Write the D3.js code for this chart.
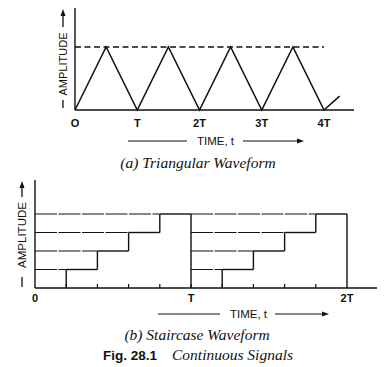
<!DOCTYPE html>
<html>
<head>
<meta charset="utf-8">
<script src="https://cdn.jsdelivr.net/npm/d3@7"></script>
<style>
  body { margin: 0; background: #fff; }
  svg { display: block; }
  .lbl { font-family: "Liberation Sans", Arial, sans-serif; fill: #111; }
  .cap { font-family: "Liberation Serif", "Times New Roman", serif; font-style: italic; fill: #111; }
</style>
</head>
<body>
<div id="chart"></div>
<script>
// (a) triangular waveform, time in units of T
const triTime = [0, 0.5, 1, 1.5, 2, 2.5, 3, 3.5, 4, 4.25]
const triAmp  = [0, 1, 0, 1, 0, 1, 0, 1, 0, 0.22]
const triTicks = [0, 1, 2, 3, 4]
const triTickLabels = ['O', 'T', '2T', '3T', '4T']

// (b) staircase, five steps per period
const stairSteps = [0, 0.2, 0.4, 0.6, 0.8]
const stairLevels = [0, 1, 2, 3, 4]
const stairPeriods = [0, 1]
const stairTicks = [0, 1, 2]
const stairTickLabels = ['0', 'T', '2T']

const width = 391, height = 367

const svg = d3.select('#chart').append('svg')
    .attr('width', width)
    .attr('height', height)

const ink = '#111'

function arrowHead(g, x, y, dir) {
    // small filled triangle pointing 'up' or 'right'
    let p = dir === 'up'
        ? [[x, y], [x - 2.5, y + 7], [x + 2.5, y + 7]]
        : [[x, y], [x - 7, y - 2.5], [x - 7, y + 2.5]]
    g.append('path').attr('d', d3.line()(p) + 'Z').attr('fill', ink)
}

function ampLabel(g, x, yTextMid, size, dashY0, dashY1, arrowTop, arrowBot) {
    g.append('text')
        .attr('class', 'lbl')
        .attr('transform', `translate(${x + 4},${yTextMid}) rotate(-90)`)
        .attr('text-anchor', 'middle')
        .style('font-size', size + 'px')
        .text('AMPLITUDE')
    g.append('line').attr('x1', x).attr('x2', x).attr('y1', dashY0).attr('y2', dashY1)
        .attr('stroke', ink).attr('stroke-width', 1.3)
    g.append('line').attr('x1', x).attr('x2', x).attr('y1', arrowTop + 5).attr('y2', arrowBot)
        .attr('stroke', ink).attr('stroke-width', 1.3)
    arrowHead(g, x, arrowTop, 'up')
}

function timeLabel(g, lineX0, lineX1, textX, arrX0, arrX1, y) {
    g.append('line').attr('x1', lineX0).attr('x2', lineX1).attr('y1', y).attr('y2', y)
        .attr('stroke', ink).attr('stroke-width', 1.2)
    g.append('text').attr('class', 'lbl')
        .attr('x', textX).attr('y', y + 4)
        .style('font-size', '11.5px')
        .text('TIME, t')
    g.append('line').attr('x1', arrX0).attr('x2', arrX1 - 5).attr('y1', y).attr('y2', y)
        .attr('stroke', ink).attr('stroke-width', 1.2)
    arrowHead(g, arrX1, y, 'right')
}

// ---------- (a) Triangular ----------
const gA = svg.append('g')

const xA = d3.scaleLinear().domain([0, 4]).range([75, 324])
const yA = d3.scaleLinear().domain([0, 1]).range([110, 47])

// axes
gA.append('line').attr('x1', xA(0)).attr('x2', xA(0)).attr('y1', 8).attr('y2', yA(0))
    .attr('stroke', ink).attr('stroke-width', 1.4)
gA.append('line').attr('x1', xA(0)).attr('x2', 354).attr('y1', yA(0)).attr('y2', yA(0))
    .attr('stroke', ink).attr('stroke-width', 1.4)

// peak reference
gA.append('line')
    .attr('x1', xA(0)).attr('x2', xA(4))
    .attr('y1', yA(1)).attr('y2', yA(1))
    .attr('stroke', ink).attr('stroke-width', 1.3)
    .attr('stroke-dasharray', '6,3.5')

const triData = triTime.map((t, i) => ({t: t, a: triAmp[i]}))
gA.append('path')
    .datum(triData)
    .attr('d', d3.line().x(d => xA(d.t)).y(d => yA(d.a)))
    .attr('fill', 'none')
    .attr('stroke', ink)
    .attr('stroke-width', 1.5)

gA.selectAll('.tlab')
    .data(triTicks)
    .join('text')
        .attr('class', 'lbl')
        .attr('x', d => xA(d))
        .attr('y', 127)
        .attr('text-anchor', 'middle')
        .style('font-size', '11px')
        .style('font-weight', 'bold')
        .text((d, i) => triTickLabels[i])

ampLabel(gA, 63, 64, 11, 100, 108, 9, 27)
timeLabel(gA, 128, 187, 197, 243, 304, 141)

gA.append('text').attr('class', 'cap')
    .attr('x', 198).attr('y', 168)
    .attr('text-anchor', 'middle')
    .style('font-size', '15.5px')
    .text('(a) Triangular Waveform')

// ---------- (b) Staircase ----------
const gB = svg.append('g')

const xB = d3.scaleLinear().domain([0, 2]).range([35, 347])
const yB = d3.scaleLinear().domain([0, 4]).range([288, 214])

gB.append('line').attr('x1', xB(0)).attr('x2', xB(0)).attr('y1', 180).attr('y2', yB(0))
    .attr('stroke', ink).attr('stroke-width', 1.4)
gB.append('line').attr('x1', xB(0)).attr('x2', 377).attr('y1', yB(0)).attr('y2', yB(0))
    .attr('stroke', ink).attr('stroke-width', 1.4)

// ticks at each step boundary
let tickVals = []
stairPeriods.forEach(p => stairSteps.forEach(s => { if (p + s > 0) tickVals.push(p + s) }))
gB.selectAll('.stick')
    .data(tickVals)
    .join('line')
        .attr('x1', d => xB(d)).attr('x2', d => xB(d))
        .attr('y1', yB(0)).attr('y2', yB(0) - 4)
        .attr('stroke', ink).attr('stroke-width', 1.2)

stairPeriods.forEach(p => {
    stairLevels.forEach((lv, k) => {
        if (lv === 0) return
        let t0 = p + stairSteps[k]
        let t1 = k + 1 < stairSteps.length ? p + stairSteps[k + 1] : p + 1
        // projection back to the period start
        gB.append('line')
            .attr('x1', xB(p)).attr('x2', xB(t0))
            .attr('y1', yB(lv)).attr('y2', yB(lv))
            .attr('stroke', ink).attr('stroke-width', 1.2)
            .attr('stroke-dasharray', '22,1.5')
        // step top
        gB.append('line')
            .attr('x1', xB(t0)).attr('x2', xB(t1))
            .attr('y1', yB(lv)).attr('y2', yB(lv))
            .attr('stroke', ink).attr('stroke-width', 1.4)
        // riser
        gB.append('line')
            .attr('x1', xB(t0)).attr('x2', xB(t0))
            .attr('y1', yB(stairLevels[k - 1])).attr('y2', yB(lv))
            .attr('stroke', ink).attr('stroke-width', 1.4)
    })
    // fall back to zero at end of period
    gB.append('line')
        .attr('x1', xB(p + 1)).attr('x2', xB(p + 1))
        .attr('y1', yB(d3.max(stairLevels))).attr('y2', yB(0))
        .attr('stroke', ink).attr('stroke-width', 1.4)
})

gB.selectAll('.slab')
    .data(stairTicks)
    .join('text')
        .attr('class', 'lbl')
        .attr('x', d => xB(d))
        .attr('y', 302)
        .attr('text-anchor', 'middle')
        .style('font-size', '11px')
        .style('font-weight', 'bold')
        .text((d, i) => stairTickLabels[i])

ampLabel(gB, 22, 235, 11.5, 277, 287, 181, 197)
timeLabel(gB, 158, 220, 230, 275, 329, 314)

gB.append('text').attr('class', 'cap')
    .attr('x', 197).attr('y', 340)
    .attr('text-anchor', 'middle')
    .style('font-size', '15.5px')
    .text('(b) Staircase Waveform')

gB.append('text').attr('class', 'lbl')
    .attr('x', 103).attr('y', 360)
    .style('font-size', '13.5px')
    .style('font-weight', 'bold')
    .text('Fig. 28.1')
gB.append('text').attr('class', 'cap')
    .attr('x', 172).attr('y', 360)
    .style('font-size', '15.5px')
    .text('Continuous Signals')
</script>
</body>
</html>
